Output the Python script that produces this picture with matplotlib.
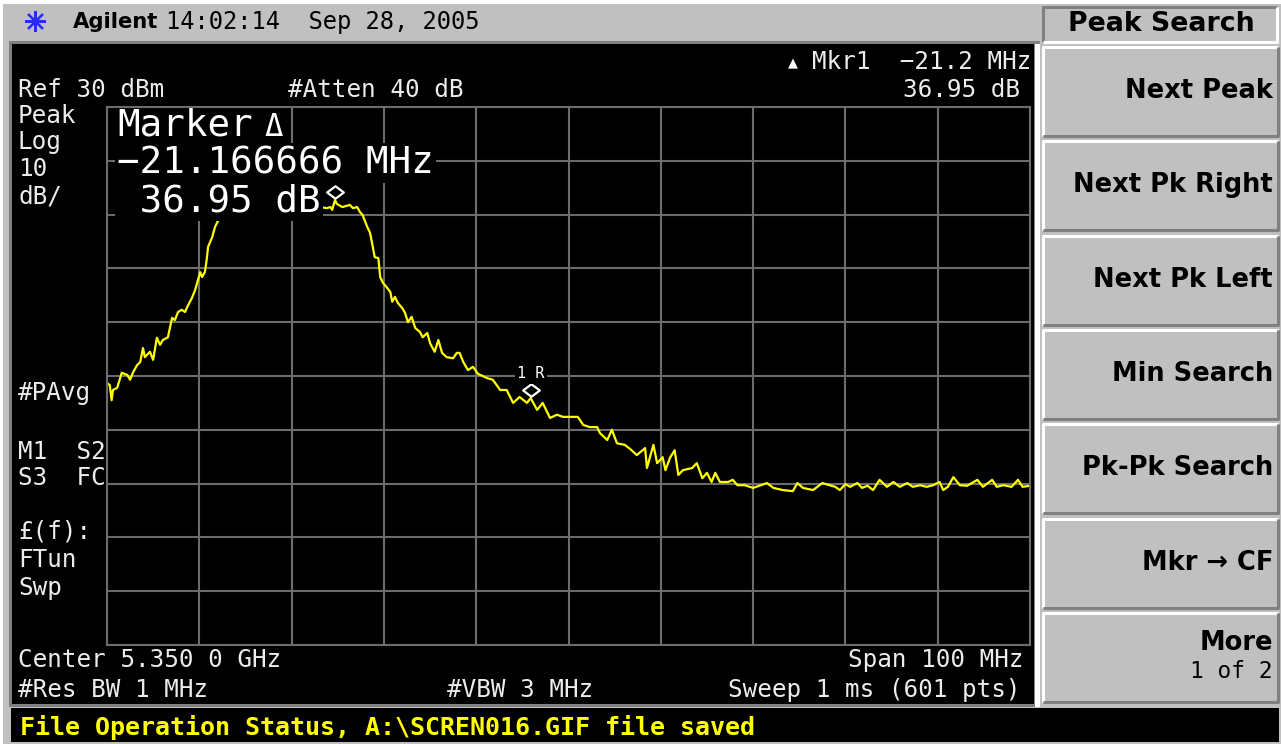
import numpy as np
import matplotlib.pyplot as plt
from matplotlib.patches import Rectangle
from matplotlib.path import Path
from matplotlib.transforms import offset_copy

# spectrum analyzer settings
start_mhz = 5300.0
span_mhz = 100.0
ref_dbm = 30.0
db_per_div = 10.0

# trace: offset from start frequency (MHz) and level (dBm)
freq_offset_mhz = [
    0.0, 0.3, 0.5, 0.65, 1.1, 1.6, 2.2, 2.5, 2.8, 3.25, 3.6, 3.9, 4.1, 4.65, 5.0, 5.4, 5.75, 6.05,
    6.6, 7.05, 7.35, 7.7, 8.1, 8.45, 8.8, 9.2, 9.55, 9.85, 10.1, 10.3, 10.6, 10.8, 10.95, 11.4, 11.7, 11.9,
    12.45, 13.1, 14.4, 16.6, 18.7, 20.9, 23.1,
    23.8, 24.2, 24.4, 24.7, 24.9, 25.5, 26.3, 26.65, 27.1, 27.4, 27.7, 28.2, 28.5, 28.8, 29.0, 29.4,
    29.6, 29.9, 30.3, 30.7, 30.9, 31.2, 31.5, 32.0, 32.3, 32.6, 33.0, 33.4, 33.9, 34.2, 34.7, 35.0,
    35.5, 35.9, 36.3, 36.8, 37.5, 37.9, 38.2, 38.6, 39.1, 39.65, 40.2, 41.2, 41.8, 42.6, 43.3, 44.0,
    44.7, 45.5, 45.9, 46.6, 47.2, 48.0, 48.75, 49.4, 50.2, 51.0, 51.6, 52.3, 53.1, 53.4, 54.2, 54.7,
    55.25, 56.1, 56.7, 57.4, 58.3, 58.5, 59.2, 59.6, 60.2, 60.5, 61.0, 61.5, 61.9, 62.4, 63.4, 63.9,
    64.5, 65.0, 65.5, 65.9, 66.4, 67.3, 67.8, 68.3, 69.1, 70.0, 71.5, 72.2, 73.2, 74.3, 74.8, 75.4,
    76.5, 77.5, 78.3,
    78.9, 79.4, 80.0, 80.5, 81.3, 81.8, 82.4, 83.0, 83.7, 84.5, 85.2, 85.9, 86.7, 87.3, 88.1, 88.8,
    89.5, 90.2, 90.6, 91.1, 91.7, 92.4, 93.2, 94.3, 94.9, 95.9, 96.4, 97.1, 98.0, 98.7, 99.2, 100.0,
]
level_dbm = [
    -21.3, -21.7, -24.5, -22.6, -22.2, -19.4, -19.8, -20.7, -19.4, -18.0, -17.4, -14.8, -16.5, -15.5, -17.0, -12.9, -14.2, -13.3,
    -12.8, -9.2, -9.6, -8.1, -7.7, -8.1, -6.8, -5.5, -4.0, -2.2, -0.7, -1.6, -0.7, 1.6, 4.0, 5.8, 7.7, 8.4,
    10.3, 11.2, 11.6, 11.8, 11.4, 11.6, 11.4,
    11.2, 11.4, 10.9, 12.7, 12.0, 11.4, 11.8, 11.2, 11.4, 10.5, 9.9, 7.7, 6.6, 4.0, 2.1, 1.9,
    -1.6, -2.7, -3.5, -4.4, -6.2, -5.3, -6.4, -7.4, -8.3, -10.0, -9.0, -11.1, -11.8, -12.8, -12.0, -13.9,
    -15.5, -13.3, -15.7, -16.5, -16.7, -15.7, -15.7, -17.4, -18.9, -18.3, -19.6, -20.4, -20.7, -22.6, -22.6, -25.0,
    -23.9, -25.0, -24.1, -26.3, -25.0, -27.8, -27.2, -27.6, -27.6, -27.6, -29.1, -29.5, -29.5, -30.6, -31.9, -30.0,
    -32.5, -32.8, -33.6, -34.7, -33.4, -37.1, -32.8, -36.2, -35.1, -37.5, -35.2, -33.8, -38.4, -37.5, -37.1, -36.2,
    -39.0, -38.0, -39.7, -38.0, -39.7, -39.7, -39.3, -40.3, -40.3, -40.8, -39.9, -40.8, -41.2, -41.4, -39.9, -40.8,
    -41.2, -39.9, -40.3,
    -40.6, -41.2, -40.1, -40.6, -39.9, -40.8, -40.4, -41.2, -39.3, -40.6, -39.7, -40.6, -39.9, -40.6, -40.3, -40.6,
    -40.3, -39.7, -41.2, -40.6, -38.8, -40.3, -40.4, -39.3, -40.6, -39.3, -40.6, -40.3, -40.6, -39.3, -40.6, -40.4,
]

# delta marker (peak) and reference marker "1R"
marker_offset_mhz = [24.7, 45.9]
marker_level_dbm = [12.7, -24.1]

softkeys = ['Next Peak', 'Next Pk Right', 'Next Pk Left', 'Min Search',
            'Pk-Pk Search', 'Mkr \u2192 CF', 'More']

W, H = 1281, 744
GRAY = '#c0c0c0'
DARK = '#808080'
TXT = '#ececec'
MONO = ['DejaVu Sans Mono', 'DejaVu Sans']

fig = plt.figure(figsize=(W / 100, H / 100), dpi=100)
fig.patch.set_facecolor(GRAY)

# full-figure pixel canvas for the instrument chrome
bg = fig.add_axes([0, 0, 1, 1], zorder=0)
bg.set_xlim(0, W)
bg.set_ylim(H, 0)
bg.axis('off')


def box(x0, y0, x1, y1, color):
    bg.add_patch(Rectangle((x0, y0), x1 - x0, y1 - y0, fc=color, ec='none'))


def bevel(x0, y0, x1, y1, raised=True):
    box(x0, y0, x1, y1, GRAY)
    hi, lo = ('white', DARK) if raised else (DARK, 'white')
    bg.plot([x0, x0, x1], [y1, y0, y0], color=hi, lw=2.2, solid_capstyle='butt')
    bg.plot([x0, x1, x1], [y1, y1, y0], color=lo, lw=2.2, solid_capstyle='butt')


box(0, 0, W, 4, 'white')
box(0, 0, 3, H, 'white')

# title bar
bg.plot([35], [21], marker=(8, 2, 0), ms=15, mew=1.6, color='#2a2aff')
bg.text(73, 22, 'Agilent', fontsize=15.2, fontweight='bold', family='DejaVu Sans', va='center')
bg.text(166, 22, '14:02:14  Sep 28, 2005', fontsize=17.1, family=MONO, va='center')

# display panel
box(9, 41, 1040, 707, DARK)
box(1035, 44, 1040, 707, 'white')
box(12, 44, 1034, 704, 'black')

left_labels = [('Ref 30 dBm', 90), ('Peak', 116), ('Log', 142), ('10', 169), ('dB/', 196),
               ('#PAvg', 393), ('M1  S2', 452), ('S3  FC', 478), ('\u00a3(f):', 532),
               ('FTun', 560), ('Swp', 588), ('Center 5.350 0 GHz', 660), ('#Res BW 1 MHz', 690)]
for s, y in left_labels:
    bg.text(18, y, s, color=TXT, fontsize=17.5, family=MONO, va='center')
bg.text(288, 90, '#Atten 40 dB', color=TXT, fontsize=17.5, family=MONO, va='center')
bg.text(447, 690, '#VBW 3 MHz', color=TXT, fontsize=17.5, family=MONO, va='center')
bg.text(1024, 660, 'Span 100 MHz', color=TXT, fontsize=17.5, family=MONO, va='center', ha='right')
bg.text(1020, 690, 'Sweep 1 ms (601 pts)', color=TXT, fontsize=17.5, family=MONO, va='center', ha='right')
bg.text(1031, 62, 'Mkr1  \u221221.2 MHz', color=TXT, fontsize=17.5, family=MONO, va='center', ha='right')
bg.text(793, 63, '\u25b2', color='white', fontsize=12, family=MONO, va='center', ha='center')
bg.text(1020, 90, '36.95 dB', color=TXT, fontsize=17.5, family=MONO, va='center', ha='right')

# status line
box(11, 708, 1279, 742, 'black')
bg.text(20, 727, 'File Operation Status, A:\\SCREN016.GIF file saved', color='#ffff00',
        fontsize=18, fontweight='bold', family=MONO, va='center')

# softkeys
bevel(1043, 7, 1277, 42, raised=False)
bg.text(1161, 24, 'Peak Search', fontsize=19.3, fontweight='bold', family='DejaVu Sans',
        va='center', ha='center')
for i, label in enumerate(softkeys):
    top = 47 + i * 94.3
    bevel(1043, top, 1278, top + 89)
    if label == 'More':
        bg.text(1273, top + 30, label, fontsize=18.5, fontweight='bold', family='DejaVu Sans',
                va='center', ha='right')
        bg.text(1273, top + 59, '1 of 2', fontsize=16.5, family=MONO, va='center', ha='right')
    else:
        bg.text(1273, top + 44, label, fontsize=18.5, fontweight='bold', family='DejaVu Sans',
                va='center', ha='right')

# graticule and trace
ax = fig.add_axes([107 / W, 1 - 645 / H, 923 / W, 538 / H], zorder=2)
ax.set_facecolor('black')
ax.set_xlim(start_mhz, start_mhz + span_mhz)
ax.set_ylim(ref_dbm - 10 * db_per_div, ref_dbm)
ax.set_xticks(np.linspace(start_mhz, start_mhz + span_mhz, 11))
ax.set_yticks(np.linspace(ref_dbm - 10 * db_per_div, ref_dbm, 11))
ax.tick_params(length=0, labelbottom=False, labelleft=False)
ax.grid(True, color='#6c6c6c', lw=1.5)
ax.set_axisbelow(True)
for sp in ax.spines.values():
    sp.set_color('#6c6c6c')
    sp.set_linewidth(1.5)

freq = start_mhz + np.array(freq_offset_mhz)
ax.plot(freq, level_dbm, color='#ffff00', lw=1.6, zorder=2)

# marker readout, black boxes hide the trace behind them
readout = [('Marker', 117, 125, 27), ('\u0394', 264, 128, 22),
           ('\u221221.166666 MHz', 117, 163, 27), (' 36.95 dB', 117, 201, 27)]
for s, x, y, size in readout:
    ax.text(x, y, s, transform=bg.transData, color='white', fontsize=size, family=MONO,
            va='center', zorder=2.2,
            bbox=dict(boxstyle='square,pad=0.05', fc='black', ec='none'))

diamond = Path([(-1, 0), (0, 0.75), (1, 0), (0, -0.75), (-1, 0)],
               [Path.MOVETO, Path.LINETO, Path.LINETO, Path.LINETO, Path.CLOSEPOLY])
mk_freq = start_mhz + np.array(marker_offset_mhz)
ax.plot(mk_freq, marker_level_dbm, ls='none', marker=diamond, ms=12, mfc='none',
        mec='white', mew=1.6, zorder=3,
        transform=offset_copy(ax.transData, fig=fig, x=0, y=8, units='dots'))
ax.annotate('1 R', xy=(mk_freq[1], marker_level_dbm[1]), xytext=(0, 17.5),
            textcoords='offset points', color='white', fontsize=11, family=MONO,
            ha='center', va='center', zorder=3,
            bbox=dict(boxstyle='square,pad=0.15', fc='black', ec='none'))

fig.savefig('out.png', dpi=100, facecolor=fig.get_facecolor())
